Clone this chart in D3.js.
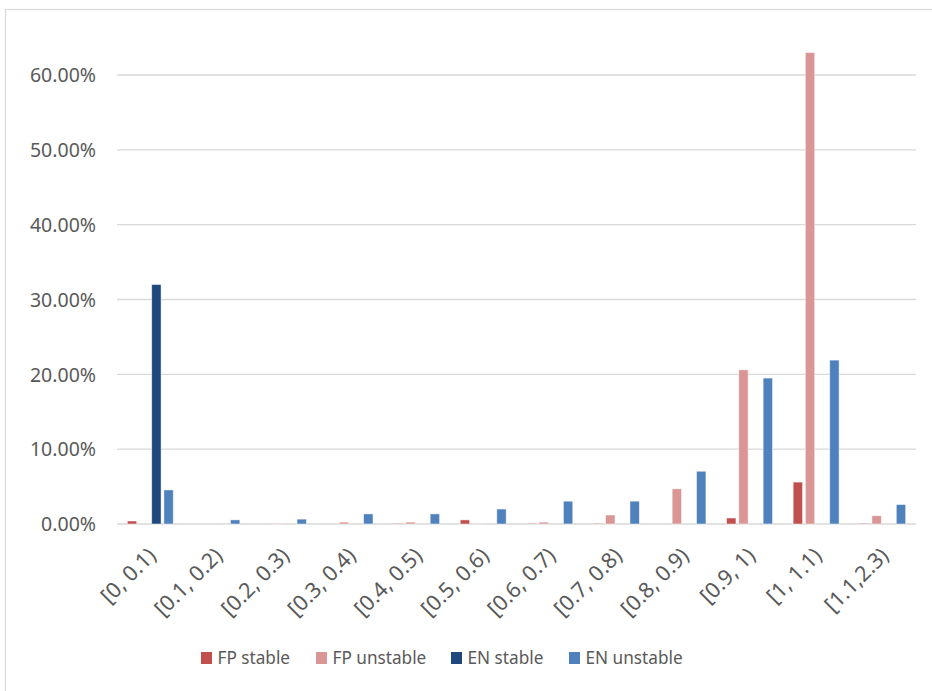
<!DOCTYPE html>
<html><head><meta charset="utf-8">
<script src="https://cdn.jsdelivr.net/npm/d3@7"></script>
<style>body{margin:0;background:#fff}svg{display:block}text{font-family:"Noto Sans","Open Sans",sans-serif;fill:#595959}</style>
</head><body><svg id="c" width="932" height="691"></svg>
<script>
const categories = ["[0, 0.1)","[0.1, 0.2)","[0.2, 0.3)","[0.3, 0.4)","[0.4, 0.5)","[0.5, 0.6)","[0.6, 0.7)","[0.7, 0.8)","[0.8, 0.9)","[0.9, 1)","[1, 1.1)","[1.1,2.3)"];
const seriesNames = ["FP stable","FP unstable","EN stable","EN unstable"];
const seriesColors = ["#C0504D","#D99694","#1F497D","#4F81BD"];
const fpStable   = [0.004,0,0,0,0.001,0.0055,0.001,0.001,0,0.008,0.056,0.001];
const fpUnstable = [0,0,0.001,0.0025,0.0025,0.001,0.0025,0.012,0.047,0.206,0.630,0.011];
const enStable   = [0.320,0,0,0,0,0,0,0,0,0,0,0];
const enUnstable = [0.0455,0.0055,0.0065,0.0135,0.0135,0.020,0.0305,0.0305,0.0705,0.195,0.219,0.026];
const yTicks = [0,0.1,0.2,0.3,0.4,0.5,0.6];
const seriesValues = [fpStable, fpUnstable, enStable, enUnstable];

const FONT = "'Noto Sans','Open Sans',sans-serif";
const svg = d3.select("#c");
svg.append("rect").attr("x",5.5).attr("y",9.5).attr("width",940).attr("height",700)
  .attr("fill","none").attr("stroke","#D9D9D9").attr("stroke-width",1.2);

const x0 = d3.scaleBand().domain(categories).range([117,916]).paddingInner(0.31).paddingOuter(0.155);
const x1 = d3.scaleBand().domain(seriesNames).range([0,x0.bandwidth()]).paddingInner(0.23);
const y = d3.scaleLinear().domain([0,0.6]).range([524,75]);

// gridlines
svg.append("g").selectAll("line").data(yTicks).join("line")
  .attr("x1",117).attr("x2",916).attr("y1",d=>y(d)).attr("y2",d=>y(d))
  .attr("stroke","#D9D9D9").attr("stroke-width",1.3);

// y axis labels
const yAxis = d3.axisLeft(y).tickValues(yTicks).tickFormat(d=>d3.format(".2%")(d)).tickSize(0).tickPadding(0);
const ya = svg.append("g").attr("transform","translate(96,0)").call(yAxis);
ya.select(".domain").remove();
ya.selectAll("text").attr("font-size",19.5).style("font-family",FONT).attr("fill","#595959").attr("dy","0.35em");

// bars
const groups = svg.append("g").selectAll("g").data(categories).join("g")
  .attr("transform",d=>`translate(${x0(d)},0)`);
groups.selectAll("rect").data((c,i)=>seriesNames.map((s,k)=>({s,k,v:seriesValues[k][i]}))).join("rect")
  .filter(d=>d.v>0)
  .attr("x",d=>x1(d.s)).attr("width",x1.bandwidth())
  .attr("y",d=>y(d.v)).attr("height",d=>y(0)-y(d.v))
  .attr("fill",d=>seriesColors[d.k]).attr("stroke","#fff").attr("stroke-opacity",0.6).attr("stroke-width",0.8);

// x axis labels
const xAxis = d3.axisBottom(x0).tickSize(0).tickPadding(0);
const xa = svg.append("g").attr("transform","translate(0,524)").call(xAxis);
xa.select(".domain").remove();
xa.selectAll("text").attr("font-size",21.5).style("font-family",FONT).attr("fill","#595959")
  .attr("text-anchor","end").attr("dy",null).attr("y",0)
  .attr("transform","translate(7,33) rotate(-45)");

// legend
const legX = [201,316,451,569];
const leg = svg.append("g").selectAll("g").data(seriesNames).join("g")
  .attr("transform",(d,i)=>`translate(${legX[i]},652)`);
leg.append("rect").attr("width",11).attr("height",12).attr("fill",(d,i)=>seriesColors[i]);
leg.append("text").attr("x",16.5).attr("y",6).attr("dy","0.35em").attr("font-size",17.2).style("font-family",FONT).text(d=>d);
</script></body></html>
